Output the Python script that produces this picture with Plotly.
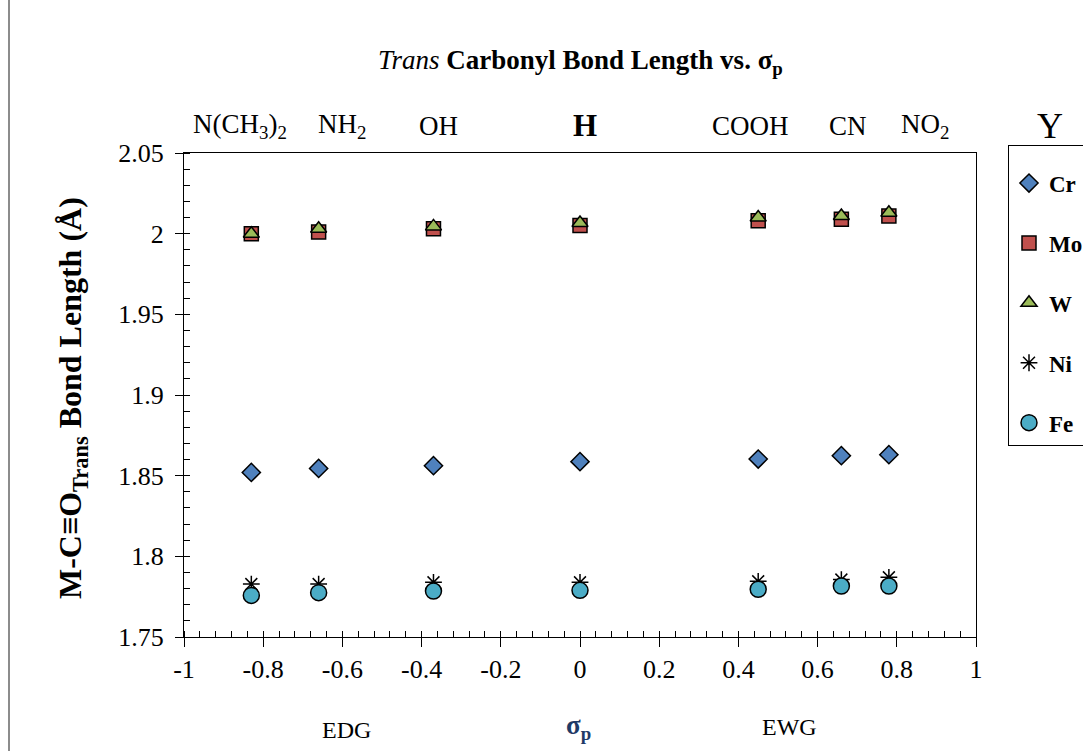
import plotly.graph_objects as go

# ---- data ----
sigma_p = [-0.83, -0.66, -0.37, 0.0, 0.45, 0.66, 0.78]
substituents = ["N(CH<sub>3</sub>)<sub>2</sub>", "NH<sub>2</sub>", "OH", "H", "COOH", "CN", "NO<sub>2</sub>"]
cr = [1.852, 1.8545, 1.8562, 1.8587, 1.8603, 1.8624, 1.863]
mo = [2.000, 2.001, 2.003, 2.005, 2.008, 2.009, 2.011]
w = [2.000, 2.003, 2.0045, 2.0066, 2.010, 2.011, 2.013]
ni = [1.7828, 1.7828, 1.7839, 1.7839, 1.7845, 1.7856, 1.7870]
fe = [1.7758, 1.7775, 1.7785, 1.7789, 1.7796, 1.7816, 1.7816]
x_tickvals = [-1, -0.8, -0.6, -0.4, -0.2, 0, 0.2, 0.4, 0.6, 0.8, 1]
x_ticktext = ["-1", "-0.8", "-0.6", "-0.4", "-0.2", "0", "0.2", "0.4", "0.6", "0.8", "1"]
y_tickvals = [1.75, 1.8, 1.85, 1.9, 1.95, 2.0, 2.05]
y_ticktext = ["1.75", "1.8", "1.85", "1.9", "1.95", "2", "2.05"]

FONT = "Liberation Serif, Times New Roman, serif"
W, H = 1083, 751
L, R, T, B = 184, 107, 153, 114
PW, PH = W - L - R, H - T - B


def px(x):
    return (x - L) / PW


def py(y):
    return (H - B - y) / PH


fig = go.Figure()
series = [
    ("Cr", cr, "diamond", "#4F81BD", 14),
    ("Mo", mo, "square", "#C0504D", 14),
    ("W", w, "triangle-up", "#9BBB59", 14),
    ("Ni", ni, "asterisk-open", "#000000", 14),
    ("Fe", fe, "circle", "#4BACC6", 16),
]
for name, vals, sym, col, sz in series:
    fig.add_trace(go.Scatter(
        x=sigma_p, y=vals, mode="markers", name=name, legendgroup=name,
        marker=dict(symbol=sym, color=col, size=sz,
                    line=dict(color="black", width=1.5)),
    ))

fig.update_layout(
    width=W, height=H,
    margin=dict(l=L, r=R, t=T, b=B, autoexpand=False),
    paper_bgcolor="white", plot_bgcolor="white",
    font=dict(family=FONT, color="black"),
    showlegend=True,
    legend=dict(
        x=px(1008), y=py(145), xanchor="left", yanchor="top",
        bordercolor="black", borderwidth=1, bgcolor="white",
        font=dict(family=FONT, size=23, color="black", weight="bold"),
        title=dict(text=" ", font=dict(size=12)),
        tracegroupgap=27, itemwidth=30,
    ),
    xaxis=dict(
        range=[-1, 1], tickmode="array", tickvals=x_tickvals, ticktext=x_ticktext,
        ticks="outside", ticklen=9, tickcolor="black", tickwidth=1,
        minor=dict(dtick=0.04, ticks="inside", ticklen=6, tickcolor="black", showgrid=False),
        showline=True, linecolor="black", linewidth=1, mirror=True,
        showgrid=False, zeroline=False,
        tickfont=dict(family=FONT, size=26, color="black"),
    ),
    yaxis=dict(
        range=[1.75, 2.05], tickmode="array", tickvals=y_tickvals, ticktext=y_ticktext,
        ticks="outside", ticklen=8, tickcolor="black", tickwidth=1,
        ticklabelstandoff=6,
        minor=dict(dtick=0.01, ticks="inside", ticklen=6, tickcolor="black", showgrid=False),
        showline=True, linecolor="black", linewidth=1, mirror=True,
        showgrid=False, zeroline=False,
        tickfont=dict(family=FONT, size=26, color="black"),
    ),
)


def note(x, y, text, size, color="black", angle=0):
    return dict(x=px(x), y=py(y), xref="paper", yref="paper", showarrow=False,
                xanchor="center", yanchor="middle", textangle=angle,
                text=text, font=dict(family=FONT, size=size, color=color))


ann = []
# Title
ann.append(note(580, 62, "<i>Trans</i> <b>Carbonyl Bond Length vs. σ<sub>p</sub></b>", 27))
# Y axis title
ann.append(note(72, 398, "<b>M-C≡O<sub>Trans</sub> Bond Length (Å)</b>", 32, angle=-90))
# Substituent labels on top
top_x = [240, 342, 438, 585, 750, 848, 925]
for lab, xx in zip(substituents, top_x):
    if lab == "H":
        ann.append(note(xx, 126, "<b>H</b>", 31))
    else:
        ann.append(note(xx, 126, lab, 27))
ann.append(note(1050, 126, "Y", 36))
# Bottom labels
ann.append(note(346, 730, "EDG", 24))
ann.append(note(578, 727, "<b>σ<sub>p</sub></b>", 27, color="#1F3A66"))
ann.append(note(789, 727, "EWG", 24))
fig.update_layout(annotations=ann)

# outer chart frame (left edge visible)
fig.add_shape(type="line", xref="paper", yref="paper",
              x0=px(9), x1=px(9), y0=py(0), y1=py(H),
              line=dict(color="#8C8C8C", width=2))

fig.write_html("out.html")
